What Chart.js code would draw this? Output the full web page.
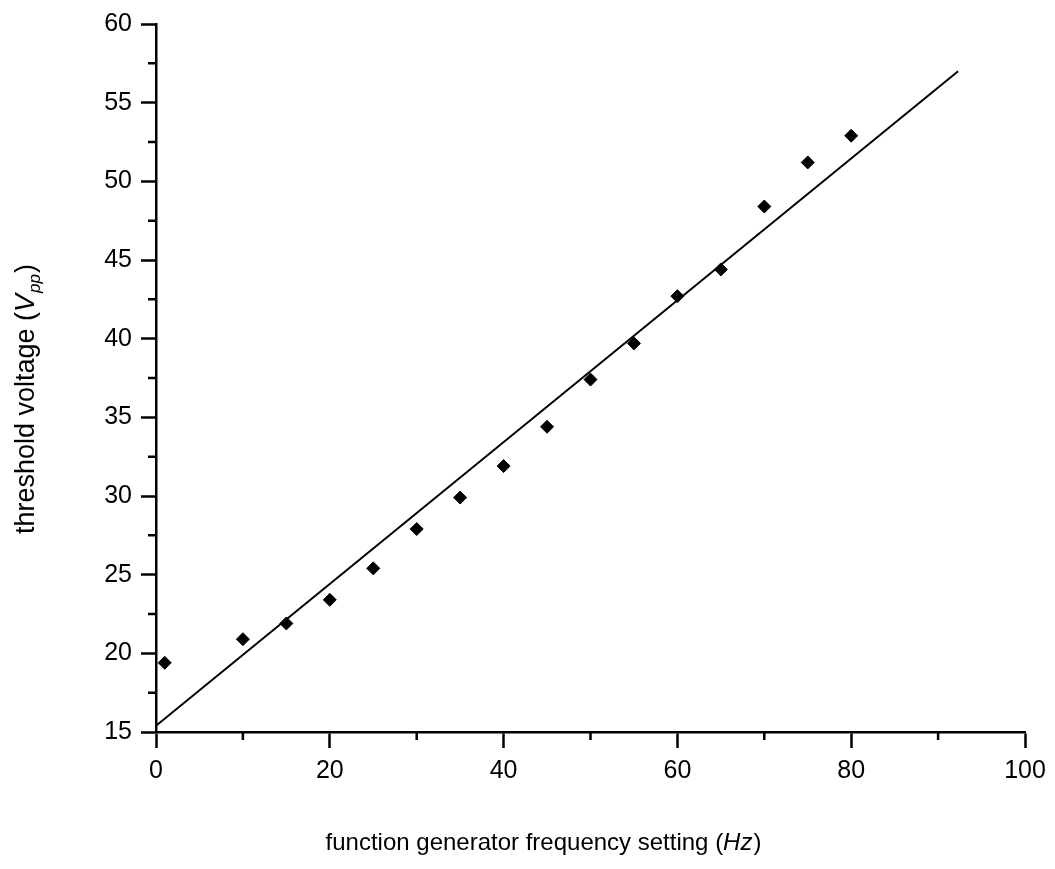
<!DOCTYPE html>
<html>
<head>
<meta charset="utf-8">
<script src="https://cdn.jsdelivr.net/npm/chart.js@4.4.0/dist/chart.umd.min.js"></script>
<style>
  html, body { margin: 0; padding: 0; background: #fff; }
  #wrap { width: 1055px; height: 869px; position: relative; }
</style>
</head>
<body>
<div id="wrap"><canvas id="myChart"></canvas></div>
<script>
// measured points
var freq = [1, 10, 15, 20, 25, 30, 35, 40, 45, 50, 55, 60, 65, 70, 75, 80];
var voltage = [19.4, 20.9, 21.9, 23.4, 25.4, 27.9, 29.9, 31.9, 34.4, 37.4, 39.7, 42.7, 44.4, 48.4, 51.2, 52.9];

// linear fit, drawn between its two end points
var fitFreq = [0, 92.3];
var fitVoltage = [15.4, 57.0];

// axis ticks
var xMajor = [0, 20, 40, 60, 80, 100];
var xMinor = [10, 30, 50, 70, 90];
var yMajor = [15, 20, 25, 30, 35, 40, 45, 50, 55, 60];
var yMinor = [17.5, 22.5, 27.5, 32.5, 37.5, 42.5, 47.5, 52.5, 57.5];

var FONT = "'Liberation Sans', Arial, sans-serif";

function toPoints(xs, ys) {
    return xs.map(function (x, i) { return { x: x, y: ys[i] }; });
}

function drawRich(ctx, parts, cx, baseY) {
    var total = 0;
    parts.forEach(function (p) {
        ctx.font = p.font;
        p.w = ctx.measureText(p.text).width + (p.gap || 0);
        total += p.w;
    });
    var x = cx - total / 2;
    parts.forEach(function (p) {
        ctx.font = p.font;
        ctx.fillText(p.text, x, baseY + (p.dy || 0));
        x += p.w;
    });
}

var extras = {
    id: 'extras',
    afterDraw: function (chart) {
        var ctx = chart.ctx;
        var a = chart.chartArea;
        var xs = chart.scales.x, ys = chart.scales.y;
        ctx.save();
        // minor ticks
        ctx.strokeStyle = '#000';
        ctx.lineWidth = 2.5;
        ctx.beginPath();
        xMinor.forEach(function (v) {
            var px = xs.getPixelForValue(v);
            ctx.moveTo(px, a.bottom);
            ctx.lineTo(px, a.bottom + 8);
        });
        yMinor.forEach(function (v) {
            var py = ys.getPixelForValue(v);
            ctx.moveTo(a.left, py);
            ctx.lineTo(a.left - 8, py);
        });
        ctx.stroke();

        // axis titles
        ctx.fillStyle = '#000';
        ctx.textAlign = 'left';
        ctx.textBaseline = 'alphabetic';
        drawRich(ctx, [
            { text: 'function generator frequency setting (', font: '24px ' + FONT },
            { text: 'Hz', font: 'italic 24px ' + FONT, gap: 1 },
            { text: ')', font: '24px ' + FONT }
        ], (a.left + a.right) / 2 - 47, a.bottom + 118);

        ctx.translate(34, (a.top + a.bottom) / 2 + 21);
        ctx.rotate(-Math.PI / 2);
        drawRich(ctx, [
            { text: 'threshold voltage (', font: '27px ' + FONT },
            { text: 'V', font: 'italic 27px ' + FONT, gap: 1 },
            { text: 'pp', font: 'italic 17px ' + FONT, dy: 6, gap: 1 },
            { text: ')', font: '27px ' + FONT }
        ], 0, 0);
        ctx.restore();
    }
};

document.addEventListener('DOMContentLoaded', function () {
    var ctx = document.getElementById('myChart').getContext('2d');
    var myChart = new Chart(ctx, {
        type: 'scatter',
        data: {
            datasets: [{
                label: 'fit',
                type: 'line',
                data: toPoints(fitFreq, fitVoltage),
                borderColor: '#000',
                borderWidth: 2,
                pointRadius: 0,
                fill: false
            }, {
                label: 'threshold voltage',
                data: toPoints(freq, voltage),
                pointStyle: 'rectRot',
                pointRadius: 6.5,
                backgroundColor: '#000',
                borderColor: '#000',
                borderWidth: 1
            }]
        },
        options: {
            responsive: true,
            maintainAspectRatio: false,
            animation: false,
            layout: { padding: { top: 22, right: 30, left: 0, bottom: 0 } },
            plugins: {
                legend: { display: false },
                tooltip: { enabled: false }
            },
            scales: {
                x: {
                    type: 'linear',
                    min: 0,
                    max: 100,
                    afterBuildTicks: function (scale) {
                        scale.ticks = xMajor.map(function (v) { return { value: v }; });
                    },
                    afterFit: function (scale) { scale.height = 137; },
                    border: { color: '#000', width: 2.5 },
                    grid: { drawOnChartArea: false, drawTicks: true, tickLength: 16, tickWidth: 2.5, tickColor: '#000' },
                    ticks: { color: '#000', padding: 8, maxRotation: 0, font: { family: FONT, size: 25 } }
                },
                y: {
                    type: 'linear',
                    min: 15,
                    max: 60,
                    afterBuildTicks: function (scale) {
                        scale.ticks = yMajor.map(function (v) { return { value: v }; });
                    },
                    afterFit: function (scale) { scale.width = 156; },
                    border: { color: '#000', width: 2.5 },
                    grid: { drawOnChartArea: false, drawTicks: true, tickLength: 15, tickWidth: 2.5, tickColor: '#000' },
                    ticks: { color: '#000', padding: 9, font: { family: FONT, size: 25 } }
                }
            }
        },
        plugins: [extras]
    });
});
</script>
</body>
</html>
